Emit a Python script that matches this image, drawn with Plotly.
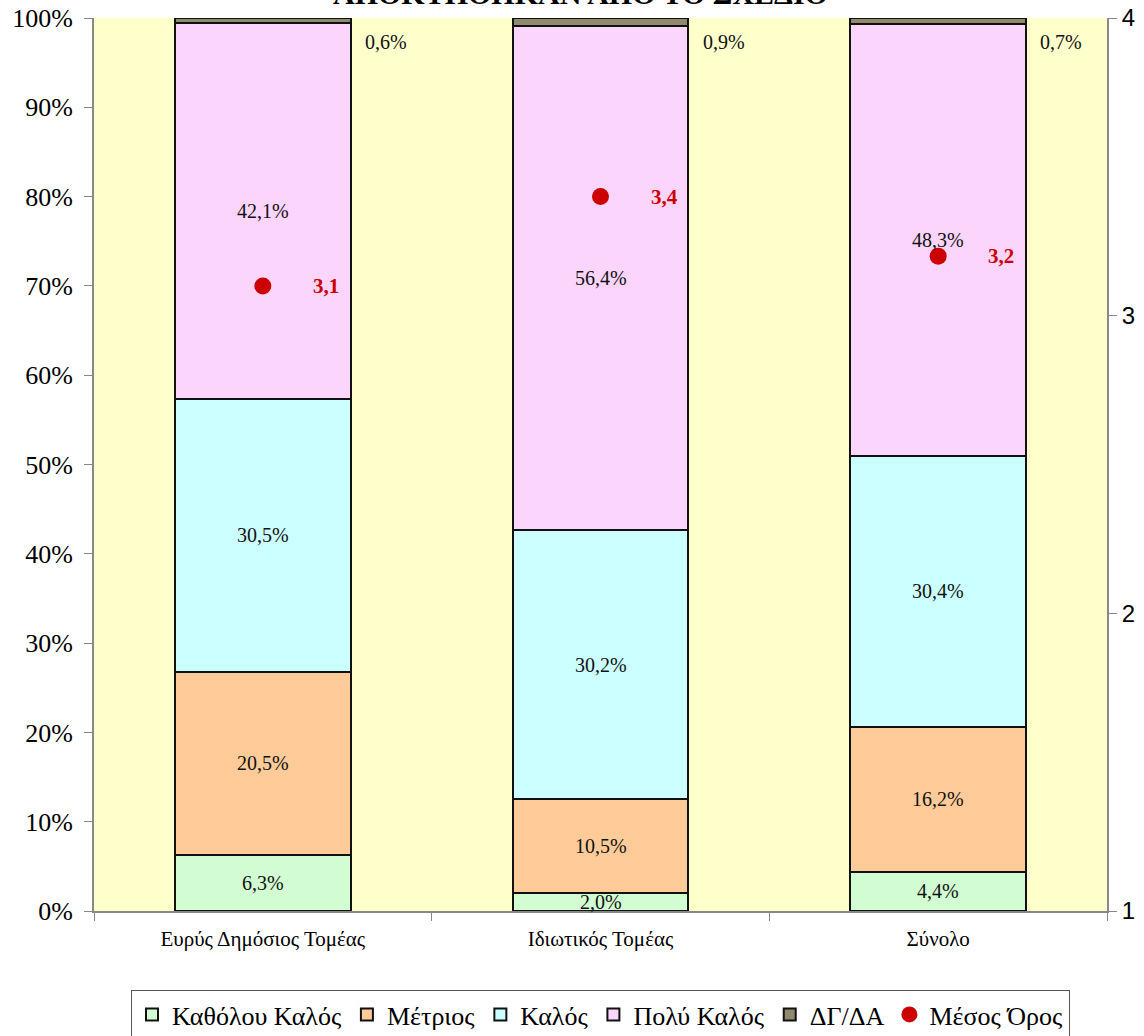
import plotly.graph_objects as go

categories = ["Ευρύς Δημόσιος Τομέας", "Ιδιωτικός Τομέας", "Σύνολο"]
series_names = ["Καθόλου Καλός", "Μέτριος", "Καλός", "Πολύ Καλός", "ΔΓ/ΔΑ"]
katholou = [6.3, 2.0, 4.4]
metrios = [20.5, 10.5, 16.2]
kalos = [30.5, 30.2, 30.4]
poly_kalos = [42.1, 56.4, 48.3]
dg_da = [0.6, 0.9, 0.7]
mean_values = [3.1, 3.4, 3.2]
series_colors = ["#D2FCD2", "#FFCC99", "#CCFFFF", "#FCD5FC", "#8F8A6E"]
left_ticks = list(range(0, 101, 10))
left_tick_text = [f"{t}%" for t in left_ticks]
right_ticks = [1, 2, 3, 4]

serif = "Liberation Serif"
sans = "Liberation Sans"
series_values = [katholou, metrios, kalos, poly_kalos, dg_da]

fig = go.Figure()
for name, vals, col in zip(series_names, series_values, series_colors):
    fig.add_trace(go.Bar(
        x=categories, y=vals, name=name,
        marker=dict(color=col, line=dict(color="#111111", width=2)),
        hoverinfo="skip",
    ))

fig.add_trace(go.Scatter(
    x=categories, y=mean_values, name="Μέσος Όρος", yaxis="y2",
    mode="markers", marker=dict(color="#CC0000", size=17, line=dict(width=0)),
    hoverinfo="skip",
))

annotations = []
for ci, cat in enumerate(categories):
    base = 0.0
    for si in range(4):
        v = series_values[si][ci]
        annotations.append(dict(
            x=cat, y=base + v / 2, xref="x", yref="y",
            text=f"{v:.1f}%".replace(".", ","), showarrow=False,
            font=dict(family=serif, size=20, color="#111111"),
        ))
        base += v
    annotations.append(dict(
        x=cat, y=97.3, xref="x", yref="y", xanchor="left",
        xshift=100, text=f"{dg_da[ci]:.1f}%".replace(".", ","), showarrow=False,
        font=dict(family=serif, size=20, color="#111111"),
    ))
    annotations.append(dict(
        x=cat, y=mean_values[ci], xref="x", yref="y2", xanchor="left",
        xshift=48, text=f"<b>{mean_values[ci]:.1f}</b>".replace(".", ","), showarrow=False,
        font=dict(family=serif, size=21, color="#CC0000"),
    ))

annotations.append(dict(
    x=0.48, y=1.0, xref="paper", yref="paper", yanchor="bottom", yshift=6,
    text="<b>ΑΠΟΚΤΗΘΗΚΑΝ ΑΠΟ ΤΟ ΣΧΕΔΙΟ</b>", showarrow=False,
    font=dict(family=serif, size=30, color="#000000"),
))

fig.update_layout(
    width=1144, height=1036,
    margin=dict(l=94, r=37, t=18, b=125, autoexpand=False),
    paper_bgcolor="white", plot_bgcolor="#FFFFCC",
    barmode="stack", bargap=0.48,
    showlegend=True,
    legend=dict(
        orientation="h", x=0.5, xanchor="center",
        yref="container", y=(1036 - 990) / 1036, yanchor="top",
        traceorder="normal",
        font=dict(family=serif, size=26, color="#000000"),
        bordercolor="#555555", borderwidth=1, bgcolor="white",
        itemwidth=30,
    ),
    xaxis=dict(
        type="category", tickson="boundaries", ticks="outside", ticklen=8,
        tickcolor="#888888", showline=True, linecolor="#888888", linewidth=2,
        tickfont=dict(family=serif, size=21, color="#000000"),
        ticklabelstandoff=8, automargin=False,
        showgrid=False, zeroline=False,
    ),
    yaxis=dict(
        range=[0, 100], tickmode="array", tickvals=left_ticks, ticktext=left_tick_text,
        ticks="outside", ticklen=8, tickcolor="#888888",
        showline=True, linecolor="#888888", linewidth=2,
        tickfont=dict(family=serif, size=26, color="#000000"),
        ticklabelstandoff=6, automargin=False,
        showgrid=False, zeroline=False,
    ),
    yaxis2=dict(
        range=[1, 4], tickmode="array", tickvals=right_ticks, ticktext=[str(t) for t in right_ticks],
        overlaying="y", side="right",
        ticks="outside", ticklen=8, tickcolor="#888888",
        showline=True, linecolor="#888888", linewidth=2,
        tickfont=dict(family=sans, size=24, color="#000000"),
        automargin=False,
        showgrid=False, zeroline=False,
    ),
    annotations=annotations,
)

fig.write_html(
    "out.html",
    config={"displayModeBar": False},
    post_script="document.body.style.margin='0';document.body.style.overflow='hidden';",
)
